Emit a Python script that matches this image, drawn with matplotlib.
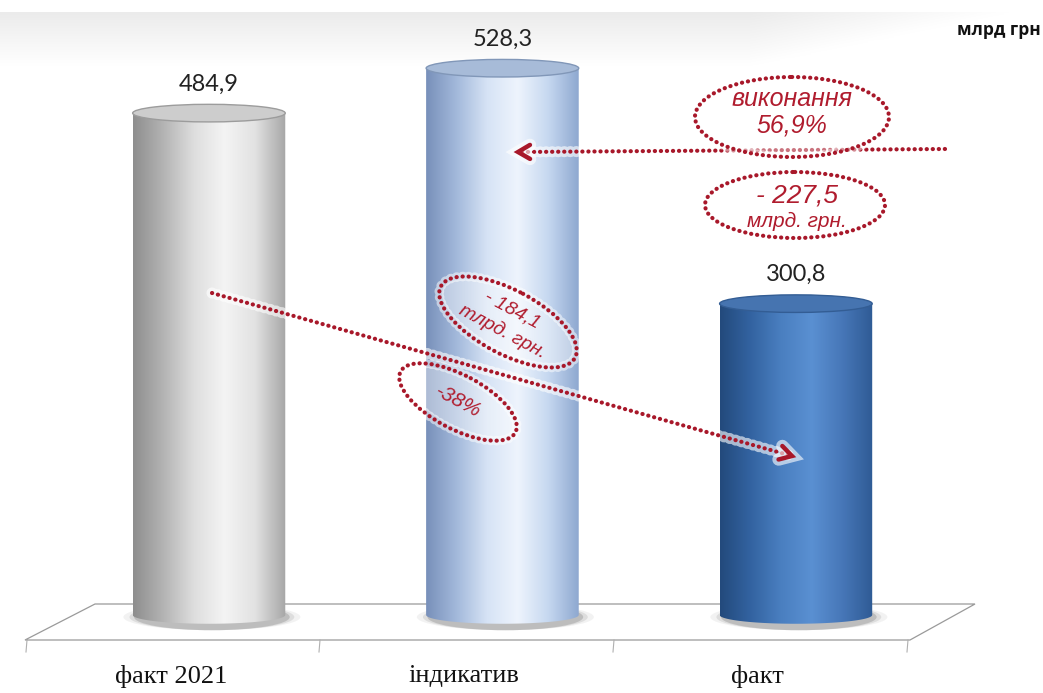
import numpy as np
import matplotlib
matplotlib.use('Agg')
import matplotlib.pyplot as plt
from matplotlib.colors import LinearSegmentedColormap
from matplotlib.patches import Ellipse, PathPatch, Polygon
from matplotlib.path import Path
import matplotlib.patheffects as pe

# --- data ---
categories = ['факт 2021', 'індикатив', 'факт']
values = [484.9, 528.3, 300.8]
value_labels = ['484,9', '528,3', '300,8']
unit_label = 'млрд грн'

# cylinder colours: left edge ... highlight ... right edge
body_colors = [
    ['#8e8e8e', '#b4b4b4', '#dedede', '#f4f4f4', '#e2e2e2', '#a6a6a6'],
    ['#7890ba', '#a3b9db', '#d6e3f5', '#eef4fd', '#c6d8f0', '#8ea8d0'],
    ['#234a7c', '#3363a1', '#4a7fc0', '#5a90d2', '#4777b8', '#2f5b95'],
]
top_colors = ['#cdcdcd', '#a7bbd8', '#4674b0']
top_edges = ['#9c9c9c', '#8197b8', '#335d94']

W, H = 1043, 693
fig = plt.figure(figsize=(W / 100, H / 100), dpi=100)
fig.patch.set_facecolor('white')

# background layer in pixel coordinates (floor, top band)
bg = fig.add_axes([0, 0, 1, 1], zorder=0)
bg.set_xlim(0, W)
bg.set_ylim(H, 0)
bg.axis('off')

band = np.linspace(0, 1, 60)[:, None] * np.ones((1, 200))
fade = np.clip((np.linspace(0, 1, 200) - 0.72) / 0.25, 0, 1)[None, :]
band = np.clip(band + fade, 0, 1)
bg.imshow(band, extent=(0, W, 66, 12), cmap=LinearSegmentedColormap.from_list('b', ['#ebebeb', '#ffffff']),
          aspect='auto', zorder=0)

floor = Polygon([(25, 640), (95, 604), (975, 604), (910, 640)], closed=True,
                facecolor='white', edgecolor='#9a9a9a', lw=0.9, zorder=1)
bg.add_patch(floor)
for xt in [27, 320, 614, 908]:
    bg.plot([xt, xt - 1], [640, 652], color='#b0b0b0', lw=0.8, zorder=1)

# data layer
ax = fig.add_axes([0, 0, 1, 1], zorder=1)
ax.patch.set_alpha(0)
ax.set_xlim(-0.712, 2.842)
ax.set_ylim(-75.4, 594.2)
ax.axis('off')

bw = 0.52
eh = 17.0  # ellipse height in data units

for i, (v, lab) in enumerate(zip(values, value_labels)):
    x0, x1 = i - bw / 2, i + bw / 2
    # shadow at base
    for k, a in zip([1.16, 1.08, 1.02], [0.08, 0.14, 0.25]):
        ax.add_patch(Ellipse((i + 0.01, -2), bw * k, eh * 1.5, facecolor='#606060',
                             edgecolor='none', alpha=a, zorder=2))
    t = np.linspace(0, np.pi, 60)
    bx = i + bw / 2 * np.cos(t)
    by = 0 - eh / 2 * np.sin(t)
    verts = [(x0, v), (x1, v)] + list(zip(bx, by)) + [(x0, v)]
    body = PathPatch(Path(verts), facecolor='none', edgecolor='none', zorder=3)
    ax.add_patch(body)
    cmap = LinearSegmentedColormap.from_list('c%d' % i, body_colors[i])
    grad = np.linspace(0, 1, 256)[None, :]
    im = ax.imshow(grad, extent=(x0, x1, -eh, v), cmap=cmap, aspect='auto', zorder=3)
    im.set_clip_path(body)
    ax.add_patch(Ellipse((i, v), bw, eh, facecolor=top_colors[i], edgecolor=top_edges[i],
                         lw=1.0, zorder=4))
    ax.text(i, v + 28, lab, ha='center', va='center', fontsize=17,
            family='Lato', color='#222222', zorder=5)

# category labels sit under the front floor segments
for i, c in enumerate(categories):
    ax.text(i - 0.13, -59, c, ha='center', va='center', fontsize=19,
            family='Liberation Serif', color='#111111')

ax.text(2.835, 565, unit_label, ha='right', va='center', fontsize=12.5, fontweight='bold',
        family='Open Sans', color='#111111')

# annotation layer in pixel coordinates
ov = fig.add_axes([0, 0, 1, 1], zorder=2)
ov.patch.set_alpha(0)
ov.set_xlim(0, W)
ov.set_ylim(H, 0)
ov.axis('off')

red = '#a8182a'
dots = (0, (0.05, 1.4))

def dotted_arrow(p0, p1):
    ln, = ov.plot([p0[0], p1[0]], [p0[1], p1[1]], color=red, lw=3.0,
                  linestyle=dots, dash_capstyle='round', zorder=3)
    ln.set_path_effects([pe.Stroke(linewidth=8, foreground='white', alpha=0.6), pe.Normal()])
    d = np.array(p1, float) - np.array(p0, float)
    d /= np.hypot(*d)
    n = np.array([-d[1], d[0]])
    tip = np.array(p1, float)
    a = tip - d * 12 + n * 7
    b = tip - d * 12 - n * 7
    hd, = ov.plot([a[0], tip[0], b[0]], [a[1], tip[1], b[1]], color=red, lw=3.2,
                  solid_capstyle='round', solid_joinstyle='miter', zorder=4)
    hd.set_path_effects([pe.Stroke(linewidth=9, foreground='white', alpha=0.6), pe.Normal()])

def dotted_ellipse(c, w, h, ang):
    inner = Ellipse(c, w - 6, h - 6, angle=ang, facecolor='white', edgecolor='none',
                    alpha=0.4, zorder=4)
    ov.add_patch(inner)
    e = Ellipse(c, w, h, angle=ang, facecolor='none', edgecolor=red, lw=3.0,
                linestyle=dots, zorder=5)
    e.set_capstyle('round')
    e.set_path_effects([pe.Stroke(linewidth=7, foreground='white', alpha=0.5), pe.Normal()])
    ov.add_patch(e)

dotted_arrow((945, 149), (518, 152))
dotted_arrow((212, 293), (792, 456))

dotted_ellipse((792, 117), 194, 80, 0)
dotted_ellipse((795, 205), 180, 66, 0)
dotted_ellipse((508, 322), 152, 64, 28)
dotted_ellipse((458, 402), 130, 54, 28)

tk = dict(color='#b01c2e', style='italic', family='Liberation Sans', ha='center',
          va='center', zorder=6)
ov.text(792, 99, 'виконання', fontsize=18, **tk)
ov.text(792, 126, '56,9%', fontsize=18, **tk)
ov.text(797, 196, '- 227,5', fontsize=19, **tk)
ov.text(797, 221, 'млрд. грн.', fontsize=15, **tk)
ov.text(512, 310, '- 184,1', fontsize=14, rotation=-28, **tk)
ov.text(503, 332, 'тлрд. грн.', fontsize=14, rotation=-28, **tk)
ov.text(458, 402, '-38%', fontsize=15, rotation=-28, **tk)

fig.savefig('out.png', dpi=100)
